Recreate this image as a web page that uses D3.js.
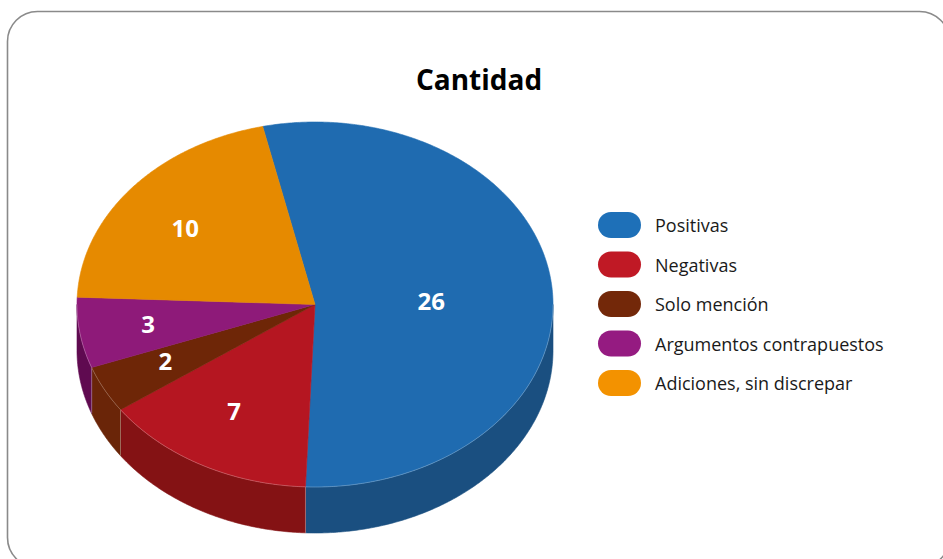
<!DOCTYPE html>
<html>
<head>
<meta charset="utf-8">
<script src="https://cdn.jsdelivr.net/npm/d3@7"></script>
<style>
  html, body { margin: 0; padding: 0; background: #ffffff; }
  svg { display: block; }
</style>
</head>
<body>
<svg id="chart" width="943" height="559"></svg>
<script>
// ---- data ----
const title = "Cantidad";
const categories = ["Positivas", "Negativas", "Solo mención", "Argumentos contrapuestos", "Adiciones, sin discrepar"];
const values = [26, 7, 2, 3, 10];

// ---- styles ----
const legendColors = ["#1e70b8", "#c01925", "#732809", "#951b81", "#f39200"];
const topColors    = ["#1f6bb0", "#b51621", "#6e2607", "#8e1a79", "#e68a00"];
const sideColors   = ["#1a4f80", "#841214", "#6a2508", "#5f0a50", "#b06a00"];

const W = 943, H = 559;
const svg = d3.select("#chart");

// frame
svg.append("rect")
  .attr("x", 7.5).attr("y", 11.5)
  .attr("width", 942).attr("height", 556)
  .attr("rx", 30).attr("ry", 30)
  .attr("fill", "#fff")
  .attr("stroke", "#8a8a8a").attr("stroke-width", 1.6);

// title
svg.append("text")
  .attr("x", 479).attr("y", 90)
  .attr("text-anchor", "middle")
  .attr("font-family", "'Open Sans', sans-serif")
  .attr("font-weight", 700)
  .attr("font-size", 28)
  .attr("fill", "#000")
  .text(title);

// ---- 3D pie geometry ----
const cx = 315, cy = 304.5, rx = 238, ry = 182.5, depth = 46;
const startDeg = -12.7;
const rad = Math.PI / 180;

const pie = d3.pie().sort(null).value(d => d)
  .startAngle(startDeg * rad).endAngle((startDeg + 360) * rad);
const arcs = pie(values);

const px = (t, f = 1) => cx + rx * f * Math.sin(t);
const py = (t, f = 1) => cy - ry * f * Math.cos(t);

function arcPoints(a0, a1, dy) {
  const n = Math.max(2, Math.ceil(Math.abs(a1 - a0) / (0.5 * rad)));
  const pts = [];
  for (let i = 0; i <= n; i++) {
    const t = a0 + (a1 - a0) * i / n;
    pts.push([px(t), py(t) + dy]);
  }
  return pts;
}

const line = d3.line();

// side walls (visible front half: angles between 90° and 270°)
const gSide = svg.append("g");
const visLo = 90 * rad, visHi = 270 * rad;
arcs.forEach((a, i) => {
  for (const shift of [-2 * Math.PI, 0, 2 * Math.PI]) {
    const s = Math.max(a.startAngle + shift, visLo);
    const e = Math.min(a.endAngle + shift, visHi);
    if (e > s) {
      const top = arcPoints(s, e, 0);
      const bot = arcPoints(e, s, depth);
      gSide.append("path")
        .attr("d", line(top.concat(bot)) + "Z")
        .attr("fill", sideColors[i])
        .attr("stroke", sideColors[i]).attr("stroke-width", 0.6);
      [s, e].forEach(t => {
        if (t > visLo + 0.01 && t < visHi - 0.01) {
          gSide.append("line")
            .attr("x1", px(t)).attr("y1", py(t))
            .attr("x2", px(t)).attr("y2", py(t) + depth)
            .attr("stroke", "rgba(255,255,255,0.35)").attr("stroke-width", 0.8);
        }
      });
    }
  }
});

// top faces
const gTop = svg.append("g");
arcs.forEach((a, i) => {
  const pts = [[cx, cy]].concat(arcPoints(a.startAngle, a.endAngle, 0));
  gTop.append("path")
    .attr("d", line(pts) + "Z")
    .attr("fill", topColors[i])
    .attr("stroke", topColors[i]).attr("stroke-width", 0.6)
    .attr("stroke-linejoin", "round");
});

// light highlight along the front top rim
gTop.append("path")
  .attr("d", line(arcPoints(visLo, visHi, 0)))
  .attr("fill", "none")
  .attr("stroke", "rgba(255,255,255,0.3)").attr("stroke-width", 0.8);

// data labels
const total = d3.sum(values);
svg.append("g").selectAll("text")
  .data(arcs)
  .join("text")
  .attr("x", d => px((d.startAngle + d.endAngle) / 2, d.value > total / 2 ? 0.49 : 0.71))
  .attr("y", d => py((d.startAngle + d.endAngle) / 2, d.value > total / 2 ? 0.49 : 0.66) + (d.value > total / 2 ? 4 : 0))
  .attr("text-anchor", "middle")
  .attr("dominant-baseline", "central")
  .attr("font-family", "'Open Sans', sans-serif")
  .attr("font-weight", 700)
  .attr("font-size", 24)
  .attr("fill", "#fff")
  .text(d => d.value);

// legend
const legendY = d3.scalePoint().domain(categories).range([225, 383]);
const leg = svg.append("g").selectAll("g")
  .data(categories)
  .join("g")
  .attr("transform", d => `translate(598,${legendY(d)})`);
leg.append("rect")
  .attr("x", 0).attr("y", -13)
  .attr("width", 43).attr("height", 26)
  .attr("rx", 13).attr("ry", 13)
  .attr("fill", (d, i) => legendColors[i]);
leg.append("text")
  .attr("x", 57).attr("y", 0)
  .attr("dominant-baseline", "central")
  .attr("font-family", "'Open Sans', sans-serif")
  .attr("font-size", 18)
  .attr("fill", "#1a1a1a")
  .text(d => d);
</script>
</body>
</html>
